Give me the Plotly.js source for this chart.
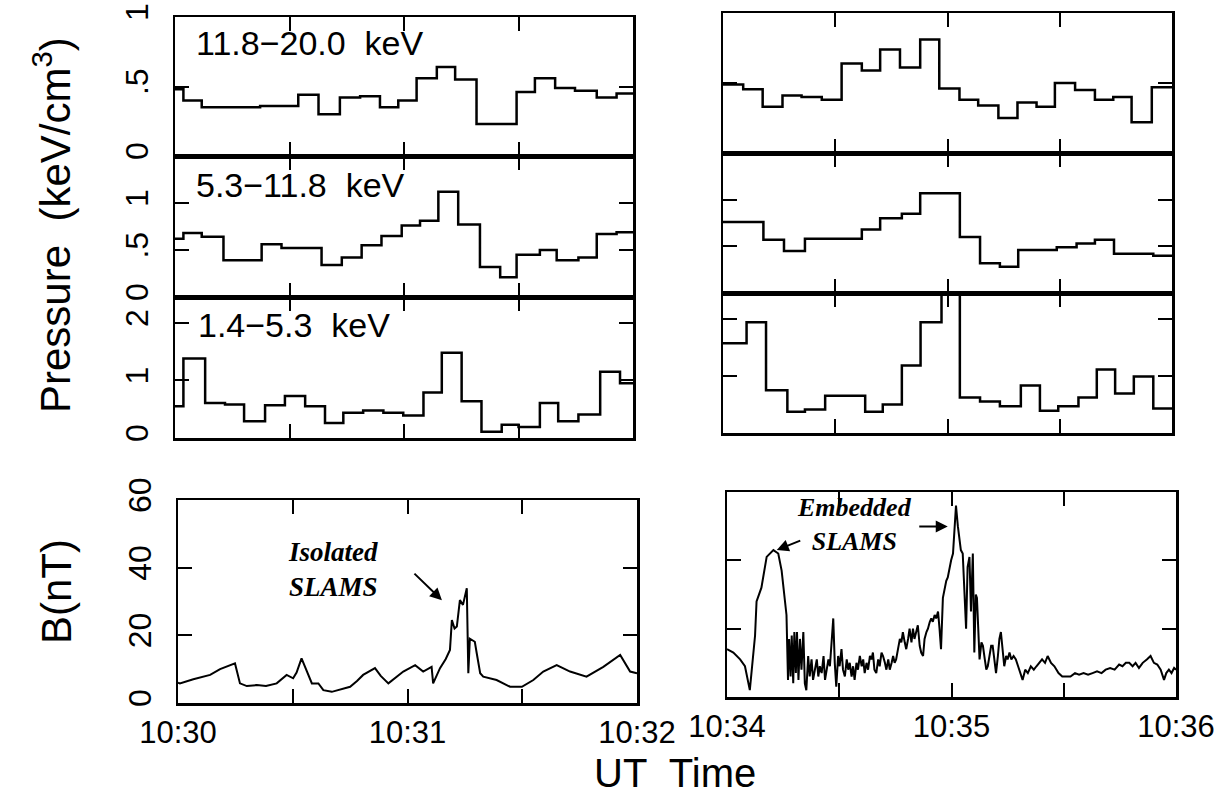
<!DOCTYPE html>
<html>
<head>
<meta charset="utf-8">
<script src="https://cdn.plot.ly/plotly-3.0.1.min.js"></script>
<style>html,body{margin:0;padding:0;background:#fff}#chart{width:1216px;height:794px}</style>
</head>
<body>
<div id="chart"></div>
<script>
// ---------------- DATA ----------------
// time axis: seconds after the start of each window (left 10:30, right 10:34)
const timeTickVals = [0, 30, 60, 90, 120];
const leftTimeLabels = ["10:30", "", "10:31", "", "10:32"];
const rightTimeLabels = ["10:34", "", "10:35", "", "10:36"];

const energyBands = ["11.8\u221220.0\u00A0 keV", "5.3\u221211.8\u00A0 keV", "1.4\u22125.3\u00A0 keV"];

// pressure tick labels (keV/cm^3)
const p1TickVals = [0, 0.5, 1];   const p1TickText = ["0", ".5", "1"];
const p2TickVals = [0, 0.5, 1];   const p2TickText = ["0", ".5", "1"];
const p3TickVals = [0, 1, 2];     const p3TickText = ["0", "1", "2"];
const bTickVals = [0, 20, 40, 60]; const bTickText = ["0", "20", "40", "60"];

// Left window, 11.8-20.0 keV (step start times, s after 10:30)
const leftP1Time = [0, 2.2, 7.0, 22.3, 32.3, 37.6, 43.2, 48.5, 53.7, 58.5, 63.3, 68.6, 73.4, 79.0, 89.5, 94.3, 99.6, 104.8, 110.5, 115.7, 120];
const leftP1Val  = [0.48, 0.40, 0.35, 0.36, 0.44, 0.30, 0.42, 0.43, 0.35, 0.40, 0.56, 0.64, 0.55, 0.23, 0.46, 0.56, 0.49, 0.47, 0.42, 0.45, 0.45];
// Left window, 5.3-11.8 keV
const leftP2Time = [0, 2.2, 7.0, 12.7, 22.7, 27.9, 38.4, 43.7, 48.9, 54.1, 59.4, 64.2, 69.0, 74.2, 79.9, 85.2, 89.5, 95.6, 100.0, 105.7, 110.5, 115.7, 120];
const leftP2Val  = [0.62, 0.68, 0.64, 0.39, 0.56, 0.52, 0.34, 0.42, 0.55, 0.65, 0.76, 0.81, 1.12, 0.77, 0.32, 0.21, 0.45, 0.50, 0.39, 0.42, 0.67, 0.69, 0.69];
// Left window, 1.4-5.3 keV
const leftP3Time = [0, 2.2, 7.9, 13.1, 18.1, 23.6, 28.8, 34.1, 39.3, 44.1, 49.3, 54.6, 59.8, 65.1, 69.9, 75.1, 80.3, 85.6, 90.0, 95.6, 100.4, 105.7, 111.4, 116.6, 120];
const leftP3Val  = [0.55, 1.38, 0.61, 0.58, 0.29, 0.57, 0.73, 0.55, 0.26, 0.44, 0.48, 0.44, 0.39, 0.79, 1.48, 0.64, 0.11, 0.23, 0.19, 0.61, 0.29, 0.41, 1.15, 0.95, 0.95];

// Right window, 11.8-20.0 keV (s after 10:34)
const rightP1Time = [0, 5.4, 10.6, 15.9, 21.0, 26.4, 31.7, 37.1, 42.0, 47.3, 52.7, 57.8, 63.2, 68.2, 73.6, 78.7, 83.8, 88.7, 94.1, 99.4, 104.3, 109.2, 114.6, 120];
const rightP1Val  = [0.49, 0.455, 0.33, 0.41, 0.40, 0.38, 0.64, 0.59, 0.74, 0.61, 0.81, 0.46, 0.38, 0.34, 0.25, 0.36, 0.33, 0.50, 0.45, 0.38, 0.40, 0.22, 0.47, 0.47];
// Right window, 5.3-11.8 keV
const rightP2Time = [0, 10.8, 16.3, 21.9, 37.1, 42.0, 47.8, 52.7, 63.3, 68.7, 74.0, 78.9, 89.2, 94.5, 99.4, 104.5, 115.0, 120];
const rightP2Val  = [0.76, 0.57, 0.45, 0.58, 0.68, 0.80, 0.85, 1.07, 0.60, 0.32, 0.28, 0.46, 0.49, 0.53, 0.57, 0.42, 0.40, 0.40];
// Right window, 1.4-5.3 keV
const rightP3Time = [0, 6.3, 11.5, 17.2, 21.9, 27.3, 38.0, 42.7, 47.8, 52.8, 58.4, 63.3, 68.7, 74.0, 79.6, 84.7, 89.6, 95.0, 99.9, 104.8, 109.8, 115.0, 120];
const rightP3Val  = [1.57, 1.94, 0.75, 0.37, 0.41, 0.65, 0.37, 0.50, 1.18, 1.94, 2.6, 0.62, 0.55, 0.47, 0.83, 0.39, 0.47, 0.62, 1.11, 0.69, 0.99, 0.43, 0.43];

// Magnetic field B (nT), left window
const leftBTime = [0, 0.5, 4, 8.4, 11, 13.6, 14.9, 16.2, 18, 20.6,
  23, 25.8, 27, 28.4, 30.1, 31, 32.3, 33.5, 35.0, 36.7,
  38.0, 40.2, 42.5, 45.0, 46.8, 48.4, 51.5, 53, 55.0, 56.8,
  58.9, 62.0, 64.1, 66.3, 66.7, 68.5, 70, 71.1, 71.6, 72.3,
  72.9, 73.7, 74.5, 75.5, 75.9, 76.3, 76.8, 77.6, 78.1, 79.0,
  79.8, 83.3, 86.8, 89.9, 92.9, 95.5, 99.0, 102.5, 106.8, 111.2,
  115.6, 118.2, 120];
const leftBVal = [6, 5.8, 7, 8.3, 10, 11.2, 11.7, 5.8, 5, 5.3,
  5, 5.8, 7, 8.3, 7.3, 9, 13.2, 10, 5.8, 5.8,
  3.8, 3.3, 4, 4.8, 6.5, 8.3, 10.3, 8, 5.8, 7.5,
  9.3, 11.2, 9.3, 10.7, 5.8, 10.3, 13, 15.7, 24.5, 22,
  22.6, 30.4, 29, 33.9, 8.8, 19, 18.6, 18.1, 14.7, 8.8,
  7.8, 6.8, 4.8, 4.8, 6.8, 9.3, 11.2, 9.3, 7.8, 10.7,
  14.2, 9.3, 8.8];

// Magnetic field B (nT), right window
const rightBTime = [0, 1.7, 3.5, 4.8, 6.1, 7.5, 7.9, 9.2, 10.6, 12.4,
  13.7, 14.6, 15.9, 16.3, 16.6, 17.0, 17.3, 17.7, 18.0, 18.4,
  18.7, 19.1, 19.5, 19.9, 20.4, 20.8, 21.2, 21.7, 22.1, 22.6,
  23.0, 23.5, 24.0, 24.4, 24.8, 25.3, 25.8, 26.2, 26.6, 27.1,
  27.5, 28.0, 28.4, 28.8, 29.2, 29.7, 30.1, 30.6, 31.0, 31.5,
  32.0, 32.4, 32.8, 33.3, 33.7, 34.1, 34.6, 35.0, 35.5, 36.0,
  36.4, 36.8, 37.3, 37.7, 38.2, 38.6, 39.0, 39.4, 39.9, 40.4,
  40.8, 41.3, 41.7, 42.2, 42.6, 43.1, 43.5, 44.0, 44.4, 44.8,
  45.2, 45.7, 46.2, 46.6, 47.0, 47.5, 47.9, 48.4, 48.8, 49.3,
  49.7, 50.1, 50.6, 51.0, 51.5, 51.9, 52.4, 52.8, 53.3, 53.7,
  54.2, 54.6, 55.0, 55.5, 55.9, 56.4, 56.8, 57.2, 57.7, 58.2,
  58.6, 59.0, 59.5, 59.9, 60.4, 60.8, 61.2, 61.7, 62.1, 62.5,
  63.0, 63.4, 63.9, 64.3, 64.8, 65.2, 65.7, 66.1, 66.5, 66.8,
  67.2, 67.5, 68.0, 68.4, 68.9, 69.3, 69.7, 70.2, 70.6, 71.0,
  71.5, 71.9, 72.4, 72.8, 73.2, 73.7, 74.1, 74.6, 75.0, 75.5,
  76.0, 76.6, 77.2, 77.8, 78.4, 79.0, 79.7, 80.4, 81.2, 82.0,
  82.7, 83.5, 84.2, 85.0, 85.7, 86.6, 87.5, 88.6, 89.6, 90.6,
  91.8, 93.0, 94.1, 95.3, 96.5, 97.7, 98.9, 100.1, 101.2, 102.4,
  103.6, 104.8, 105.7, 106.6, 107.5, 108.4, 109.2, 110.1, 111.1, 112.2,
  113.2, 114.1, 115.0, 115.9, 116.8, 117.4, 118.1, 118.8, 119.5, 120];
const rightBVal = [14, 13, 11, 9, 2, 18, 28, 32, 41, 43,
  42, 37, 24, 5, 17, 6, 18, 4, 19, 7,
  19, 5, 17, 8, 19, 4, 2, 12, 6, 11,
  5, 8, 11, 6, 9, 7, 12, 5, 8, 11,
  9, 16, 23, 10, 3, 12, 9, 14, 8, 6,
  11, 8, 10, 6, 9, 5, 10, 8, 12, 9,
  11, 7, 10, 8, 12, 11, 13, 8, 7, 11,
  9, 13, 12, 10, 8, 11, 8, 10, 12, 10,
  11, 14, 17, 16, 19, 16, 14, 17, 20, 16,
  20, 17, 19, 21, 15, 13, 12, 17, 19, 20,
  22, 23, 22, 24, 23, 25, 20, 14, 29, 32,
  34, 35, 38, 40, 42, 48, 56, 50, 46, 43,
  42, 30, 20, 38, 41, 25, 42, 13, 30, 29,
  15, 11, 16, 15, 11, 8, 9, 13, 15, 15,
  10, 7, 12, 17, 19, 12, 9, 12, 11, 13,
  11, 12, 11, 9, 7, 5, 8, 7, 9, 8,
  9, 10, 11, 10, 12, 10, 9, 7, 6, 6,
  6, 7, 6.5, 7, 6.5, 7, 7.5, 7, 8, 8.5,
  8, 9.5, 9, 10, 10, 9, 10, 8.5, 10, 11,
  12, 10, 9.5, 8, 5, 7, 8, 7, 8.5, 8];

// ---------------- LAYOUT ----------------
const W = 1216, H = 794;
const xd = (a, b) => [a / W, b / W];
const yd = (top, bottom) => [1 - bottom / H, 1 - top / H];
const FONT = 'Liberation Sans, Arial, sans-serif';
const SERIF = 'Liberation Serif, Times New Roman, serif';

function xax(domain, anchor, labels) {
  return {
    domain: domain, anchor: anchor, range: [0, 120], tickmode: 'array',
    tickvals: timeTickVals, ticktext: labels || timeTickVals.map(() => ''),
    showticklabels: !!labels, ticks: 'inside', ticklen: 14, tickwidth: 2, tickcolor: 'black',
    showline: true, linecolor: 'black', linewidth: 2.5, mirror: 'ticks',
    showgrid: false, zeroline: false, fixedrange: true, ticklabeloverflow: 'allow',
    tickfont: {family: FONT, size: 31, color: 'black'}
  };
}
function yax(domain, anchor, range, vals, text, showLabels) {
  return {
    domain: domain, anchor: anchor, range: range, tickmode: 'array',
    tickvals: vals, ticktext: text, showticklabels: showLabels, tickangle: -90,
    ticks: 'inside', ticklen: 14, tickwidth: 2, tickcolor: 'black',
    showline: true, linecolor: 'black', linewidth: 2.5, mirror: 'ticks',
    showgrid: false, zeroline: false, fixedrange: true, ticklabelstandoff: 12,
    tickfont: {family: FONT, size: 32, color: 'black'}
  };
}

const stepLine = {shape: 'hv', color: 'black', width: 2.5};
const bLine = {shape: 'linear', color: 'black', width: 2};
const mk = (x, y, n, line) => ({x: x, y: y, xaxis: 'x' + (n === 1 ? '' : n), yaxis: 'y' + (n === 1 ? '' : n),
  mode: 'lines', line: line, hoverinfo: 'skip', showlegend: false});

const data = [
  mk(leftP1Time, leftP1Val, 1, stepLine),
  mk(leftP2Time, leftP2Val, 2, stepLine),
  mk(leftP3Time, leftP3Val, 3, stepLine),
  mk(leftBTime, leftBVal, 4, bLine),
  mk(rightP1Time, rightP1Val, 5, stepLine),
  mk(rightP2Time, rightP2Val, 6, stepLine),
  mk(rightP3Time, rightP3Val, 7, stepLine),
  mk(rightBTime, rightBVal, 8, bLine)
];

const LX = xd(175, 633), LBX = xd(178, 637), RX = xd(723, 1172), RBX = xd(727, 1176);
const arrowStyle = {showarrow: true, arrowhead: 2, arrowsize: 1.2, arrowwidth: 2, arrowcolor: 'black', standoff: 0};

const layout = {
  width: W, height: H, margin: {l: 0, r: 0, t: 0, b: 0},
  paper_bgcolor: 'white', plot_bgcolor: 'white', showlegend: false,
  xaxis: xax(LX, 'y'), yaxis: yax(yd(17, 156), 'x', [0, 1], p1TickVals, p1TickText, true),
  xaxis2: xax(LX, 'y2'), yaxis2: yax(yd(156, 297), 'x2', [0, 1.5], p2TickVals, p2TickText, true),
  xaxis3: xax(LX, 'y3'), yaxis3: yax(yd(297, 438), 'x3', [0, 2.45], p3TickVals, p3TickText, true),
  xaxis4: xax(LBX, 'y4', leftTimeLabels), yaxis4: yax(yd(500, 703), 'x4', [0, 60], bTickVals, bTickText, true),
  xaxis5: xax(RX, 'y5'), yaxis5: yax(yd(13, 153), 'x5', [0, 1], p1TickVals, p1TickText, false),
  xaxis6: xax(RX, 'y6'), yaxis6: yax(yd(153, 293), 'x6', [0, 1.5], p2TickVals, p2TickText, false),
  xaxis7: xax(RX, 'y7'), yaxis7: yax(yd(293, 433), 'x7', [0, 2.45], p3TickVals, p3TickText, false),
  xaxis8: xax(RBX, 'y8', rightTimeLabels), yaxis8: yax(yd(492, 697), 'x8', [0, 60], bTickVals, bTickText, false),
  annotations: [
    {xref: 'paper', yref: 'paper', x: 194 / W, y: 1 - 43 / H, xanchor: 'left', yanchor: 'middle', showarrow: false,
     text: energyBands[0], font: {family: FONT, size: 34, color: 'black'}},
    {xref: 'paper', yref: 'paper', x: 194 / W, y: 1 - 185 / H, xanchor: 'left', yanchor: 'middle', showarrow: false,
     text: energyBands[1], font: {family: FONT, size: 34, color: 'black'}},
    {xref: 'paper', yref: 'paper', x: 196 / W, y: 1 - 325 / H, xanchor: 'left', yanchor: 'middle', showarrow: false,
     text: energyBands[2], font: {family: FONT, size: 34, color: 'black'}},
    {xref: 'paper', yref: 'paper', x: 52 / W, y: 1 - 225 / H, xanchor: 'center', yanchor: 'middle', showarrow: false,
     textangle: -90, text: 'Pressure\u00A0 (keV/cm<sup>3</sup>)', font: {family: FONT, size: 42, color: 'black'}},
    {xref: 'paper', yref: 'paper', x: 56 / W, y: 1 - 592 / H, xanchor: 'center', yanchor: 'middle', showarrow: false,
     textangle: -90, text: 'B(nT)', font: {family: FONT, size: 42, color: 'black'}},
    {xref: 'paper', yref: 'paper', x: 675 / W, y: 1 - 773 / H, xanchor: 'center', yanchor: 'middle', showarrow: false,
     text: 'UT\u00A0 Time', font: {family: FONT, size: 40, color: 'black'}},
    // SLAMS labels
    {xref: 'x4', yref: 'y4', x: 40.5, y: 39.5, showarrow: false, text: '<b><i>Isolated<br>SLAMS</i></b>',
     font: {family: SERIF, size: 27, color: 'black'}},
    Object.assign({xref: 'x4', yref: 'y4', x: 69, y: 30.4, ax: -29, ay: -28, text: ''}, arrowStyle),
    {xref: 'x8', yref: 'y8', x: 34, y: 50.5, showarrow: false, text: '<b><i>Embedded<br>SLAMS</i></b>',
     font: {family: SERIF, size: 26, color: 'black'}},
    Object.assign({xref: 'x8', yref: 'y8', x: 13.3, y: 43, ax: 25, ay: -10, text: ''}, arrowStyle),
    Object.assign({xref: 'x8', yref: 'y8', x: 59, y: 49.9, ax: -30, ay: 0, text: ''}, arrowStyle)
  ]
};

Plotly.newPlot('chart', data, layout, {staticPlot: true, displayModeBar: false});
</script>
</body>
</html>
